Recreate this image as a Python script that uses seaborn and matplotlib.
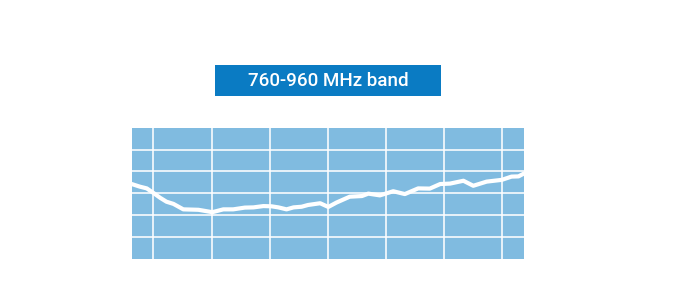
import matplotlib
matplotlib.use("Agg")
import matplotlib.pyplot as plt
import seaborn as sns
import pandas as pd
from matplotlib.patches import Rectangle

# Data (grid units along x, response level along y)
x_vals = [0.00, 0.14, 0.26, 0.37, 0.49, 0.60, 0.72, 0.89, 1.15, 1.26, 1.39, 1.58, 1.75,
          1.95, 2.10, 2.27, 2.41, 2.53, 2.67, 2.79, 2.93, 3.04, 3.25, 3.39, 3.53, 3.76,
          3.97, 4.08, 4.28, 4.51, 4.71, 4.94, 5.14, 5.32, 5.49, 5.72, 5.89, 6.12, 6.38,
          6.55, 6.67, 6.77]
y_vals = [3.42, 3.30, 3.22, 3.02, 2.79, 2.61, 2.51, 2.26, 2.24, 2.19, 2.13, 2.26, 2.26,
          2.34, 2.35, 2.41, 2.40, 2.35, 2.26, 2.35, 2.38, 2.46, 2.54, 2.37, 2.57, 2.84,
          2.87, 2.98, 2.90, 3.09, 2.96, 3.22, 3.21, 3.42, 3.44, 3.57, 3.34, 3.53, 3.61,
          3.76, 3.77, 3.91]
x_ticks = [0.372, 1.382, 2.382, 3.382, 4.377, 5.388, 6.38]
y_ticks = [1, 2, 3, 4, 5]
title_text = "760-960 MHz band"

df = pd.DataFrame({"x": x_vals, "y": y_vals})

sns.set_style("white")
plt.rcParams['font.family'] = ['Roboto', 'DejaVu Sans']

fig = plt.figure(figsize=(6.85, 2.9), dpi=100)
ax = fig.add_axes([131.7 / 685, 1 - 258.7 / 290, 392.6 / 685, 131.0 / 290])
ax.set_facecolor("#80bbe0")

sns.lineplot(data=df, x="x", y="y", ax=ax, color="white", linewidth=3.0,
             solid_capstyle="round", solid_joinstyle="round", zorder=3)

ax.set_xlim(0, 6.77)
ax.set_ylim(0, 6)
ax.set_xticks(x_ticks)
ax.set_yticks(y_ticks)
ax.grid(True, color="white", linewidth=1.2, alpha=0.95)
ax.set_axisbelow(True)
ax.tick_params(left=False, bottom=False, labelleft=False, labelbottom=False)
for s in ax.spines.values():
    s.set_visible(False)
ax.set_xlabel("")
ax.set_ylabel("")

# Title box
bx0, bx1 = 215 / 685, 441 / 685
by0, by1 = 1 - 96.5 / 290, 1 - 65 / 290
fig.patches.append(Rectangle((bx0, by0), bx1 - bx0, by1 - by0, transform=fig.transFigure,
                             facecolor="#0a7bc3", edgecolor="none"))
fig.text((bx0 + bx1) / 2, (by0 + by1) / 2, title_text, color="white", fontsize=13.5,
         fontweight="medium", ha="center", va="center")

fig.savefig("out.png", dpi=100)
